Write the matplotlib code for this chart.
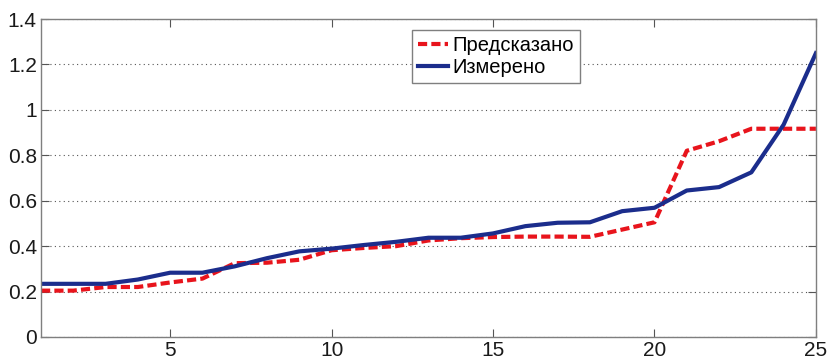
import matplotlib
matplotlib.use("Agg")
import matplotlib.pyplot as plt

plt.rcParams["font.family"] = ["Liberation Sans", "DejaVu Sans"]
plt.rcParams["font.size"] = 15

###########################################################
# Data
###########################################################

x_vals = list(range(1, 26))

predicted = [0.204, 0.204, 0.22, 0.22, 0.24, 0.257, 0.325, 0.327, 0.34, 0.382,
             0.392, 0.40, 0.425, 0.435, 0.44, 0.442, 0.442, 0.441, 0.473, 0.505,
             0.82, 0.862, 0.917, 0.917, 0.917]

measured = [0.234, 0.234, 0.234, 0.253, 0.283, 0.283, 0.311, 0.347, 0.377, 0.389,
            0.405, 0.419, 0.437, 0.437, 0.456, 0.488, 0.503, 0.505, 0.554, 0.569,
            0.645, 0.66, 0.725, 0.935, 1.25]

labels = ["Предсказано", "Измерено"]

x_ticks = [5, 10, 15, 20, 25]
y_ticks = [0, 0.2, 0.4, 0.6, 0.8, 1, 1.2, 1.4]
y_tick_labels = ["0", "0.2", "0.4", "0.6", "0.8", "1", "1.2", "1.4"]

###########################################################
# Plot
###########################################################

fig = plt.figure(figsize=(8.27, 3.6), dpi=100)
ax = fig.add_axes([0.0496, 0.064, 0.937, 0.883])

ax.plot(x_vals, predicted, color="#e8141c", linewidth=3,
        linestyle=(0, (2.2, 1.0)), label=labels[0])
ax.plot(x_vals, measured, color="#1b2d8c", linewidth=3,
        linestyle="-", label=labels[1])

ax.set_xlim(1, 25)
ax.set_ylim(0, 1.4)
ax.set_xticks(x_ticks)
ax.set_yticks(y_ticks)
ax.set_yticklabels(y_tick_labels)

ax.grid(axis="y", linestyle=(0, (1, 3)), color="#555555", linewidth=0.8)
ax.set_axisbelow(True)

for s in ax.spines.values():
    s.set_color("#7f7f7f")
    s.set_linewidth(1.0)

ax.tick_params(direction="in", top=True, right=True, length=6,
               color="#555555", labelcolor="#1a1a1a", pad=3)

leg = ax.legend(loc="upper left", bbox_to_anchor=(0.479, 0.965),
                borderaxespad=0, fancybox=False, framealpha=1,
                handlelength=1.5, handletextpad=0.2, borderpad=0.3,
                labelspacing=0.15, fontsize=14.5)
leg.get_frame().set_edgecolor("#7f7f7f")
leg.get_frame().set_linewidth(1.0)

fig.savefig("out.png", dpi=100)
plt.close(fig)
